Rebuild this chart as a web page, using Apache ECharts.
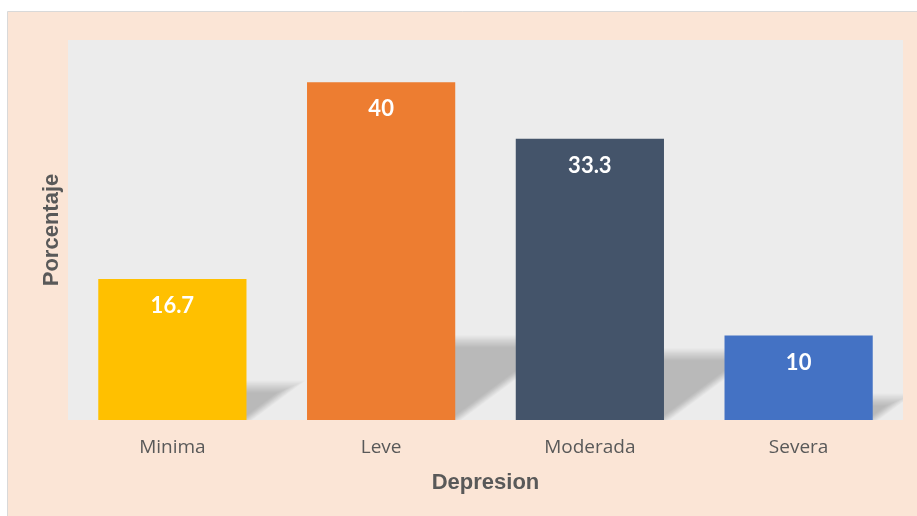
<!DOCTYPE html>
<html>
<head>
<meta charset="utf-8">
<script src="https://cdn.jsdelivr.net/npm/echarts@6/dist/echarts.min.js"></script>
<style>
  html, body { margin: 0; padding: 0; background: #fff; }
  #chart { width: 917px; height: 516px; }
</style>
</head>
<body>
<div id="chart"></div>
<script>
// datos
const categories = ["Minima", "Leve", "Moderada", "Severa"];
const porcentajes = [16.7, 40, 33.3, 10];
const colores = ["#FFC000", "#ED7D31", "#44546A", "#4472C4"];

const BAR_RATIO = 0.71;

const chart = echarts.init(document.getElementById("chart"));

// sombra difusa: varias capas de poligonos con poca opacidad
function renderShadow(params, api) {
  const base = api.coord([api.value(0), 0]);
  const top = api.coord([api.value(0), api.value(1)]);
  const w = api.size([1, 0])[0] * BAR_RATIO;
  const h = base[1] - top[1];
  const hs = h * 0.23 + 1;
  const slope = 1.35;
  const xl = base[0] - w / 2 + 2;
  const xr = base[0] + w / 2;
  const y0 = base[1];
  const children = [];
  for (let k = -5; k <= 5; k++) {
    const d = k * 1.2;
    const hh = hs - d;
    if (hh <= 0) continue;
    children.push({
      type: "polygon",
      shape: {
        points: [
          [xl, y0],
          [xr - d, y0],
          [xr - d + hh * slope, y0 - hh],
          [xl + hh * slope, y0 - hh],
        ],
      },
      style: { fill: "rgba(0,0,0,0.02)" },
    });
  }
  return { type: "group", children: children };
}

const option = {
  backgroundColor: "#fff",
  animation: false,
  graphic: [
    {
      type: "rect",
      z: -10,
      shape: { x: 7.5, y: 11.5, width: 920, height: 520 },
      style: { fill: "#FBE5D6", stroke: "#D9D9D9", lineWidth: 1 },
    },
  ],
  grid: {
    left: 68,
    right: 14,
    top: 40,
    bottom: 96,
    show: true,
    backgroundColor: "#ECECEC",
    borderWidth: 0,
  },
  xAxis: {
    type: "category",
    data: categories,
    name: "Depresion",
    nameLocation: "middle",
    nameGap: 52,
    nameTextStyle: {
      fontFamily: "Liberation Sans",
      fontWeight: "bold",
      fontSize: 22,
      color: "#595959",
    },
    axisLine: { show: false },
    axisTick: { show: false },
    axisLabel: {
      margin: 18,
      fontFamily: "Open Sans",
      fontSize: 19,
      color: "#595959",
    },
  },
  yAxis: {
    type: "value",
    min: 0,
    max: 45,
    name: "Porcentaje",
    nameLocation: "middle",
    nameRotate: 90,
    nameGap: 5,
    nameTextStyle: {
      fontFamily: "Liberation Sans",
      fontWeight: "bold",
      fontSize: 22,
      color: "#595959",
    },
    axisLine: { show: false },
    axisTick: { show: false },
    axisLabel: { show: false },
    splitLine: { show: false },
  },
  series: [
    {
      type: "custom",
      z: 1,
      clip: true,
      silent: true,
      data: porcentajes.map((v, i) => [i, v]),
      renderItem: renderShadow,
    },
    {
      type: "bar",
      z: 2,
      barWidth: "71%",
      data: porcentajes.map((v, i) => ({
        value: v,
        itemStyle: { color: colores[i] },
      })),
      label: {
        show: true,
        position: "insideTop",
        distance: 16,
        color: "#fff",
        fontFamily: "Lato",
        fontWeight: "bold",
        fontSize: 22,
      },
    },
  ],
};

chart.setOption(option);

window.addEventListener("resize", () => {
  chart.resize();
});
</script>
</body>
</html>
